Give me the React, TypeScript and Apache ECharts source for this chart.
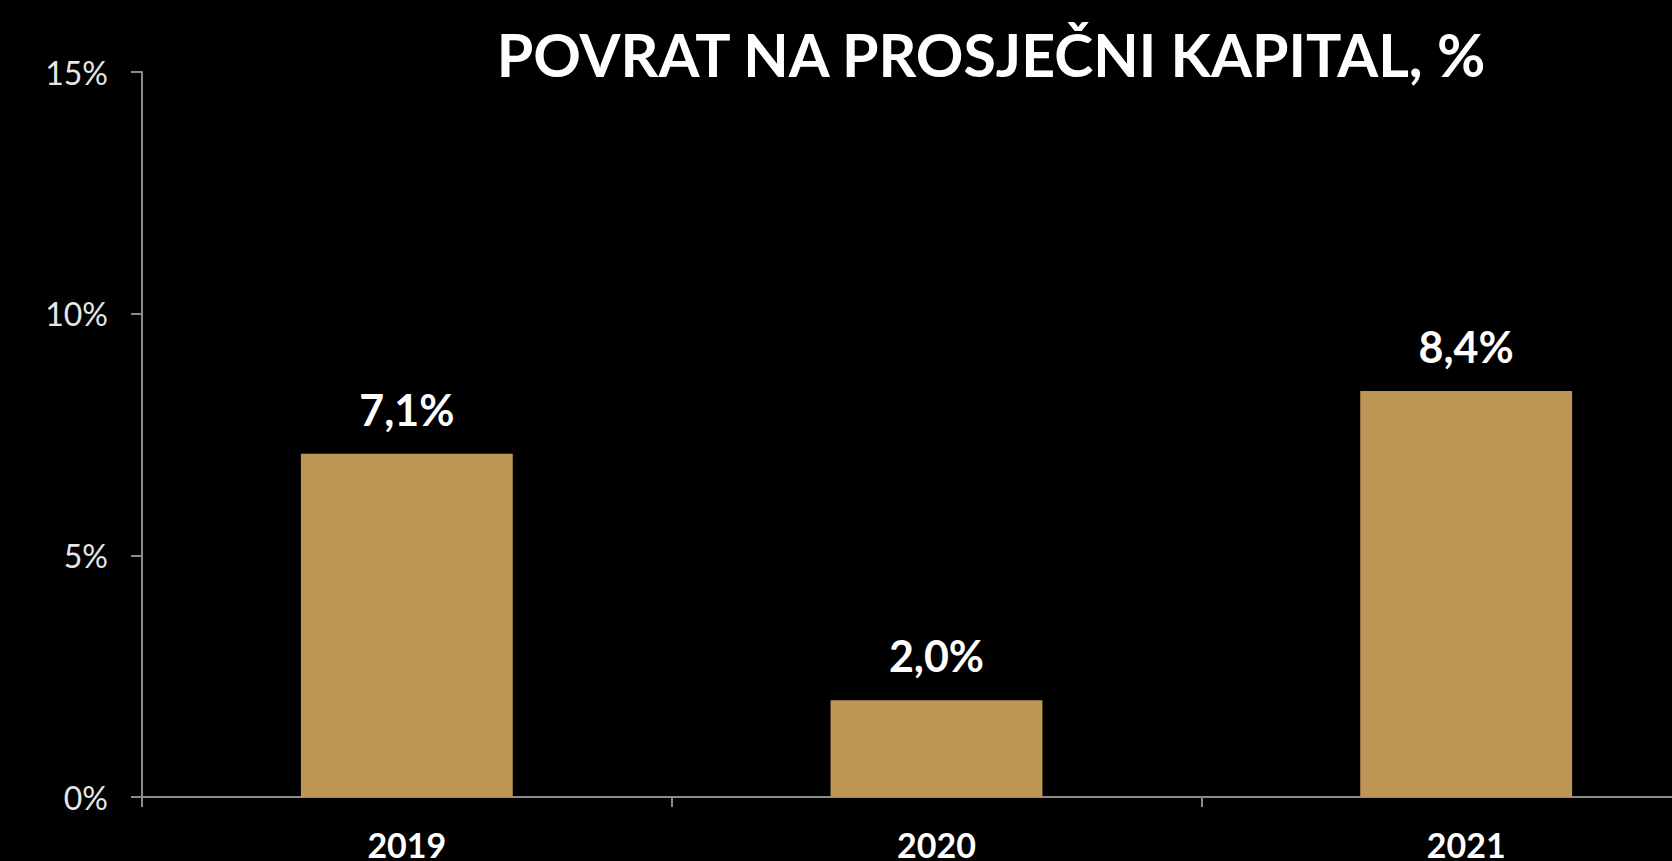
import React, { useEffect, useRef } from "react";
import * as echarts from "echarts";

const categories = ["2019", "2020", "2021"];
const values = [7.1, 2.0, 8.4];
const yTicks = [0, 5, 10, 15];
const titleText = "POVRAT NA PROSJEČNI KAPITAL, %";

export default function App() {
  const ref = useRef<HTMLDivElement>(null);
  useEffect(() => {
    document.documentElement.style.margin = "0";
    document.documentElement.style.padding = "0";
    document.documentElement.style.overflow = "hidden";
    document.body.style.margin = "0";
    document.body.style.padding = "0";
    document.body.style.background = "#000";
    const chart = echarts.init(ref.current!, undefined, { renderer: "svg" });
    chart.setOption({
      animation: false,
      backgroundColor: "#000",
      graphic: [
        {
          type: "text",
          x: 991,
          y: 54,
          style: {
            text: titleText,
            fill: "#ffffff",
            font: "bold 59px Lato",
            textAlign: "center",
            textVerticalAlign: "middle",
          },
        },
      ],
      grid: { left: 142, right: 0, top: 72, bottom: 57, containLabel: false },
      xAxis: {
        type: "category",
        data: categories,
        axisLine: { show: true, lineStyle: { color: "#8c8c8c", width: 2 } },
        axisTick: { show: true, length: 10, lineStyle: { color: "#8c8c8c", width: 2 } },
        axisLabel: {
          color: "#ffffff",
          fontFamily: "Lato",
          fontWeight: "bold",
          fontSize: 34,
          margin: 30,
        },
      },
      yAxis: {
        type: "value",
        min: 0,
        max: 15,
        interval: 5,
        splitLine: { show: false },
        axisLine: { show: true, lineStyle: { color: "#8c8c8c", width: 2 } },
        axisTick: { show: true, length: 11, lineStyle: { color: "#8c8c8c", width: 2 } },
        axisLabel: {
          color: "#e6e6e6",
          fontFamily: "Lato",
          fontSize: 32,
          margin: 34,
          formatter: (v: number) => (yTicks.includes(v) ? v + "%" : ""),
        },
      },
      series: [
        {
          type: "bar",
          data: values,
          barWidth: "40%",
          itemStyle: { color: "#be9655" },
          label: {
            show: true,
            position: "top",
            distance: 23,
            color: "#ffffff",
            fontFamily: "Lato",
            fontWeight: "bold",
            fontSize: 43,
            formatter: (p: any) => p.value.toFixed(1).replace(".", ",") + "%",
          },
        },
      ],
    });
    return () => chart.dispose();
  }, []);
  return (
    <div style={{ width: 1672, height: 861, overflow: "hidden", background: "#000" }}>
      <div ref={ref} style={{ width: 1731, height: 861, background: "#000" }} />
    </div>
  );
}
